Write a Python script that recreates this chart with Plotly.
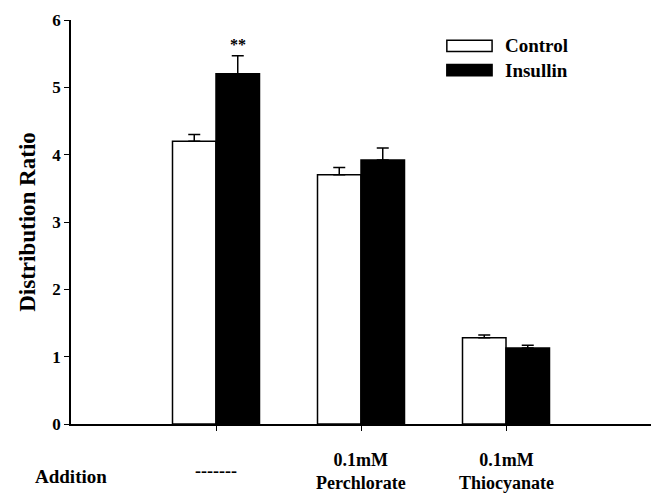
import plotly.graph_objects as go

# ---- data ----
group_pos = [1, 2, 3]
group_labels = ["-------", "0.1mM<br>Perchlorate", "0.1mM<br>Thiocyanate"]
series_names = ["Control", "Insullin"]
control_vals = [4.2, 3.7, 1.28]
control_err = [0.10, 0.11, 0.04]
insulin_vals = [5.2, 3.92, 1.13]
insulin_err = [0.27, 0.18, 0.04]
y_ticks = [0, 1, 2, 3, 4, 5, 6]

FONT = "Liberation Serif"

fig = go.Figure()
fig.add_trace(go.Bar(
    x=group_pos, y=control_vals, name=series_names[0],
    marker=dict(color="white", line=dict(color="black", width=1.5)),
    error_y=dict(type="data", symmetric=False, array=control_err,
                 arrayminus=[0] * len(control_err), color="black",
                 thickness=1.5, width=6),
    showlegend=False,
))
fig.add_trace(go.Bar(
    x=group_pos, y=insulin_vals, name=series_names[1],
    marker=dict(color="black", line=dict(color="black", width=1.5)),
    error_y=dict(type="data", symmetric=False, array=insulin_err,
                 arrayminus=[0] * len(insulin_err), color="black",
                 thickness=1.5, width=6),
    showlegend=False,
))

annotations = []
# significance stars above insulin group 1
annotations.append(dict(
    x=group_pos[0] + 0.15, y=insulin_vals[0] + insulin_err[0], xref="x", yref="y",
    text="<b>**</b>", showarrow=False, yanchor="bottom", yshift=1,
    font=dict(family=FONT, size=16, color="black"),
))
# category labels under axis
for xp, lab in zip(group_pos, group_labels):
    annotations.append(dict(
        x=xp, y=-0.117, xref="x", yref="paper",
        text="<b>" + lab + "</b>", showarrow=False, yanchor="middle",
        font=dict(family=FONT, size=18, color="black"),
    ))
annotations.append(dict(
    x=0, y=-0.129, xref="x", yref="paper", text="<b>Addition</b>",
    showarrow=False, yanchor="middle",
    font=dict(family=FONT, size=19, color="black"),
))

# custom legend
legend_fill = ["white", "black"]
legend_y = [0.936, 0.876]
shapes = []
for name, fill, yc in zip(series_names, legend_fill, legend_y):
    shapes.append(dict(type="rect", xref="paper", yref="paper",
                       x0=0.648, x1=0.726, y0=yc - 0.014, y1=yc + 0.014,
                       fillcolor=fill, line=dict(color="black", width=1.5)))
    annotations.append(dict(
        x=0.745, y=yc, xref="paper", yref="paper", text="<b>" + name + "</b>",
        showarrow=False, xanchor="left", yanchor="middle",
        font=dict(family=FONT, size=19, color="black"),
    ))

fig.update_layout(
    width=655, height=493,
    margin=dict(l=71, r=4, t=20, b=69),
    paper_bgcolor="white", plot_bgcolor="white",
    barmode="group", bargap=0.4, bargroupgap=0,
    font=dict(family=FONT, color="black"),
    annotations=annotations, shapes=shapes,
    xaxis=dict(range=[0, 4], tickvals=group_pos, ticktext=["", "", ""],
               ticks="outside", ticklen=5, tickcolor="black",
               showline=True, linecolor="black", linewidth=1.5,
               showgrid=False, zeroline=False, fixedrange=True),
    yaxis=dict(range=[0, 6], tickvals=y_ticks, ticks="outside", ticklen=5,
               tickcolor="black", showline=True, linecolor="black", linewidth=1.5,
               showgrid=False, zeroline=False,
               tickfont=dict(family=FONT, size=17, color="black", weight="bold"),
               title=dict(text="<b>Distribution Ratio</b>", standoff=10,
                          font=dict(family=FONT, size=23, color="black"))),
)

fig.write_html("out.html", config={"displayModeBar": False},
               post_script="document.body.style.margin='0';document.body.style.padding='0';")
